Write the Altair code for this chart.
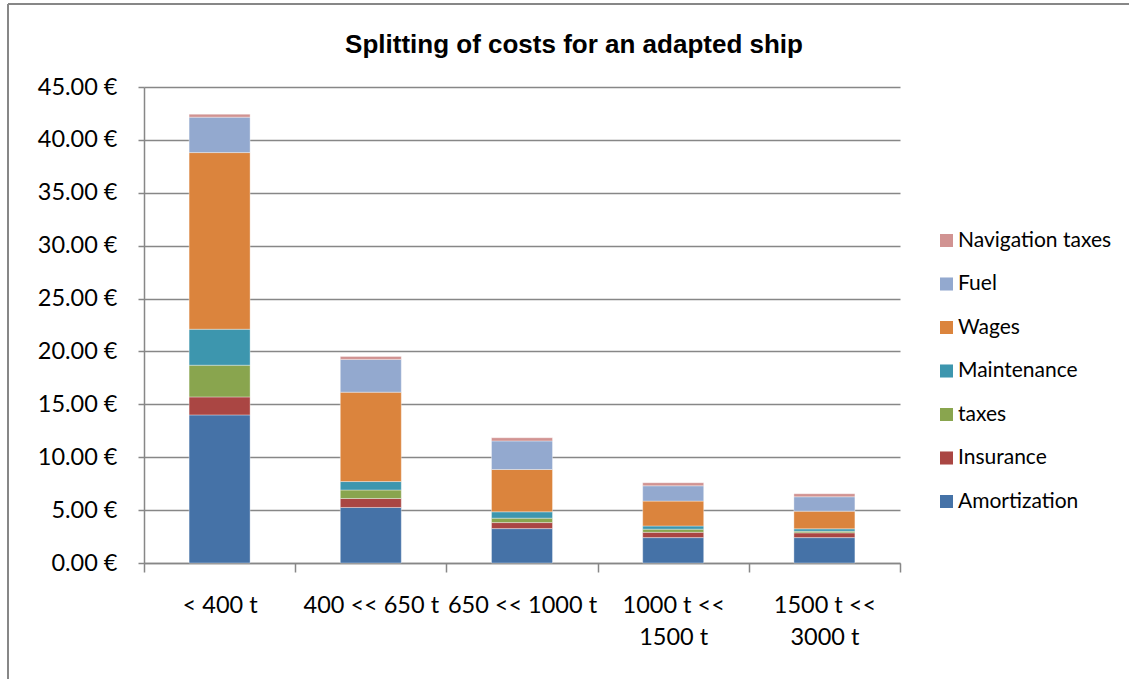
import altair as alt
import pandas as pd

categories = ["< 400 t", "400 << 650 t", "650 << 1000 t", "1000 t << 1500 t", "1500 t << 3000 t"]
series = ["Amortization", "Insurance", "taxes", "Maintenance", "Wages", "Fuel", "Navigation taxes"]
colors = ["#4572A7", "#AA4643", "#89A54E", "#3D96AE", "#DB843D", "#93A9CF", "#D19392"]

amortization = [14.0, 5.25, 3.25, 2.4, 2.4]
insurance = [1.7, 0.85, 0.57, 0.5, 0.45]
taxes = [3.0, 0.8, 0.42, 0.3, 0.15]
maintenance = [3.4, 0.8, 0.6, 0.3, 0.23]
wages = [16.7, 8.45, 4.0, 2.35, 1.67]
fuel = [3.35, 3.1, 2.7, 1.45, 1.36]
navigation = [0.28, 0.28, 0.3, 0.29, 0.29]

title_text = "Splitting of costs for an adapted ship"

values = [amortization, insurance, taxes, maintenance, wages, fuel, navigation]
rows = []
for si, (name, vals) in enumerate(zip(series, values)):
    for c, v in zip(categories, vals):
        rows.append({"category": c, "series": name, "value": v, "idx": si})
df = pd.DataFrame(rows)

FONT = "Lato"
GRID = "#878787"

bars = alt.Chart(df).mark_bar(size=61, stroke="white", strokeWidth=0.6, strokeOpacity=0.6).encode(
    x=alt.X("category:N", sort=categories, title=None,
            scale=alt.Scale(paddingInner=0, paddingOuter=0),
            axis=alt.Axis(labelAngle=0, labelFontSize=23.5, labelFont=FONT, labelColor="#000000",
                          labelPadding=21, labelLineHeight=32, tickBand="extent", grid=False,
                          tickSize=9, tickColor=GRID, domainColor=GRID, domainWidth=1.5,
                          tickWidth=1.5, labelBaseline="top",
                          labelExpr="test(/t << /, datum.label) ? [slice(datum.label, 0, indexof(datum.label, '<<') + 2), slice(datum.label, indexof(datum.label, '<<') + 3)] : datum.label")),
    y=alt.Y("value:Q", stack="zero", title=None,
            scale=alt.Scale(domain=[0, 45], nice=False),
            axis=alt.Axis(values=list(range(0, 50, 5)), labelFontSize=23.5, labelFont=FONT,
                          labelColor="#000000", labelPadding=21, tickSize=6, tickColor=GRID,
                          tickWidth=1.5, domainColor=GRID, domainWidth=1.5,
                          grid=True, gridColor=GRID, gridWidth=1.5,
                          labelExpr="format(datum.value, '.2f') + ' €'")),
    color=alt.Color("series:N",
                    scale=alt.Scale(domain=series[::-1], range=colors[::-1]),
                    legend=alt.Legend(title=None, orient="none", legendX=792, legendY=143,
                                      symbolType="square", symbolSize=170, symbolStrokeWidth=0,
                                      labelFontSize=21, labelFont=FONT, labelColor="#000000",
                                      rowPadding=21.5, labelOffset=1)),
    order=alt.Order("idx:Q", sort="ascending"),
)

frame = pd.DataFrame({"t": [title_text]})
left_line = alt.Chart(frame).mark_rule(color="#878787", strokeWidth=2).encode(
    x=alt.value(-136), y=alt.value(-83), y2=alt.value(600))
top_line = alt.Chart(frame).mark_rule(color="#878787", strokeWidth=2).encode(
    x=alt.value(-136), x2=alt.value(1000), y=alt.value(-83))
title = alt.Chart(frame).mark_text(font="Liberation Sans", fontSize=26, fontWeight="bold",
                                   color="#000000", align="center", baseline="alphabetic").encode(
    x=alt.value(430), y=alt.value(-34), text="t:N")

chart = alt.layer(bars, left_line, top_line, title).properties(
    width=756, height=476,
    background="white",
    autosize=alt.AutoSizeParams(type="none"),
    padding={"left": 144, "top": 87, "right": 229, "bottom": 116},
).configure_view(strokeWidth=0)

chart.save("out.html", embed_options={"renderer": "svg", "actions": False})
